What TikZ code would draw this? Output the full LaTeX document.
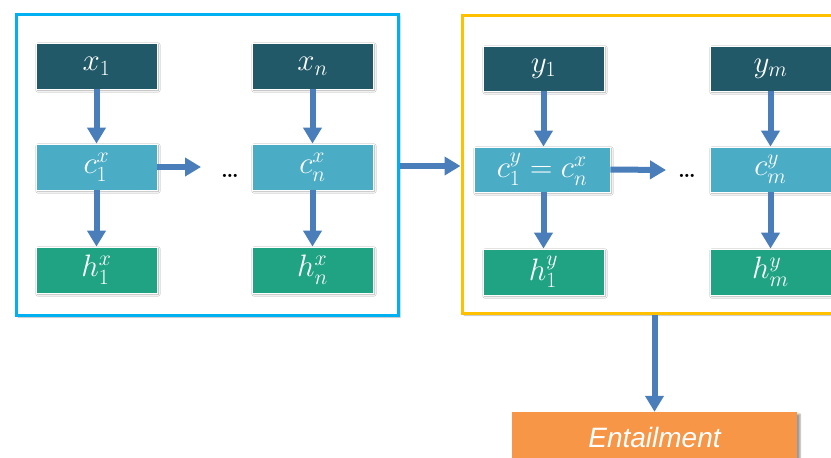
\documentclass[tikz,border=0pt]{standalone}
\usepackage{fix-cm}
\usepackage{fontspec}
\usepackage{amsmath}
\newfontfamily\entfont{Liberation Sans}
\usetikzlibrary{arrows.meta,shadows.blur}
\definecolor{xcol}{HTML}{215968}
\definecolor{ccol}{HTML}{4BACC6}
\definecolor{hcol}{HTML}{20A383}
\definecolor{arr}{HTML}{4A7EBB}
\definecolor{bluefr}{HTML}{00B0F0}
\definecolor{yelfr}{HTML}{FFC000}
\definecolor{entcol}{HTML}{F79646}
\tikzset{
  cell/.style={rectangle, draw=white, line width=0.8pt, minimum width=121pt, minimum height=46pt,
    text=white, inner sep=0pt, font=\fontsize{31}{34}\selectfont,
    blur shadow={shadow xshift=1.5pt, shadow yshift=-1.5pt, shadow blur steps=4, shadow opacity=35}},
  xbox/.style={cell, fill=xcol},
  cbox/.style={cell, fill=ccol},
  hbox/.style={cell, fill=hcol},
  frame/.style={rectangle, line width=3pt, inner sep=0pt,
    blur shadow={shadow xshift=2pt, shadow yshift=-2pt, shadow blur steps=4, shadow opacity=30}},
  flow/.style={draw=arr, line width=6pt, -{Triangle[width=18pt,length=16pt]}},
  dots/.style={font=\bfseries\fontsize{22}{24}\selectfont, inner sep=0pt, anchor=base}
}
\begin{document}
\begin{tikzpicture}[x=1pt,y=-1pt]
\useasboundingbox (0,0) rectangle (831,458);
\clip (0,0) rectangle (831,458);
% frames
\node[frame, draw=bluefr, fill=white, minimum width=382pt, minimum height=301pt] (bf) at (207,164.5) {};
\node[frame, draw=yelfr, fill=white, minimum width=398pt, minimum height=298pt] (yf) at (661,164) {};
% left block
\node[xbox] (x1) at (96.5,66) {$x_1$};
\node[xbox] (xn) at (312.5,66) {$x_n$};
\node[cbox] (c1x) at (96.5,167) {$c_1^x$};
\node[cbox] (cnx) at (312.5,167) {$c_n^x$};
\node[hbox] (h1x) at (96.5,270) {$h_1^x$};
\node[hbox] (hnx) at (312.5,270) {$h_n^x$};
\node[dots] (d1) at (230,177) {\ldots};
\coordinate (a1) at (201,167);
% right block
\node[xbox, minimum height=45pt] (y1) at (543.5,68.5) {$y_1$};
\node[xbox, minimum height=45pt] (ym) at (770.5,68.5) {$y_m$};
\node[cbox, minimum width=136pt, minimum height=45pt] (c1y) at (542,169.5) {$c_1^y = c_n^x$};
\node[cbox, minimum height=45pt] (cmy) at (770.5,169.5) {$c_m^y$};
\node[hbox, minimum height=46pt] (h1y) at (543.5,272) {$h_1^y$};
\node[hbox, minimum height=46pt] (hmy) at (770.5,272) {$h_m^y$};
\node[dots] (d2) at (687,177) {\ldots};
\coordinate (a2) at (666,170);
% entailment
\node[rectangle, fill=entcol, minimum width=285pt, minimum height=50pt, inner sep=0pt,
  text=white, font=\entfont\itshape\fontsize{28}{32}\selectfont,
  blur shadow={shadow xshift=3pt, shadow yshift=-2pt, shadow blur steps=4, shadow opacity=40}]
  (ent) at (654.5,437) {Entailment};
% arrows
\draw[flow] (x1) -- (c1x);
\draw[flow] (c1x) -- (h1x);
\draw[flow] (xn) -- (cnx);
\draw[flow] (cnx) -- (hnx);
\draw[flow] (c1x.east) -- (a1);
\draw[flow] (y1) -- (c1y.north -| y1);
\draw[flow] (c1y.south -| h1y) -- (h1y);
\draw[flow] (ym) -- (cmy);
\draw[flow] (cmy) -- (hmy);
\draw[flow] (c1y.east) -- (a2);
\draw[flow] ([yshift=-1.5pt]bf.east) -- ([yshift=-1.5pt]bf.east -| yf.west);
\draw[flow] (yf.south -| ent.north) -- (ent.north);
\end{tikzpicture}
\end{document}
